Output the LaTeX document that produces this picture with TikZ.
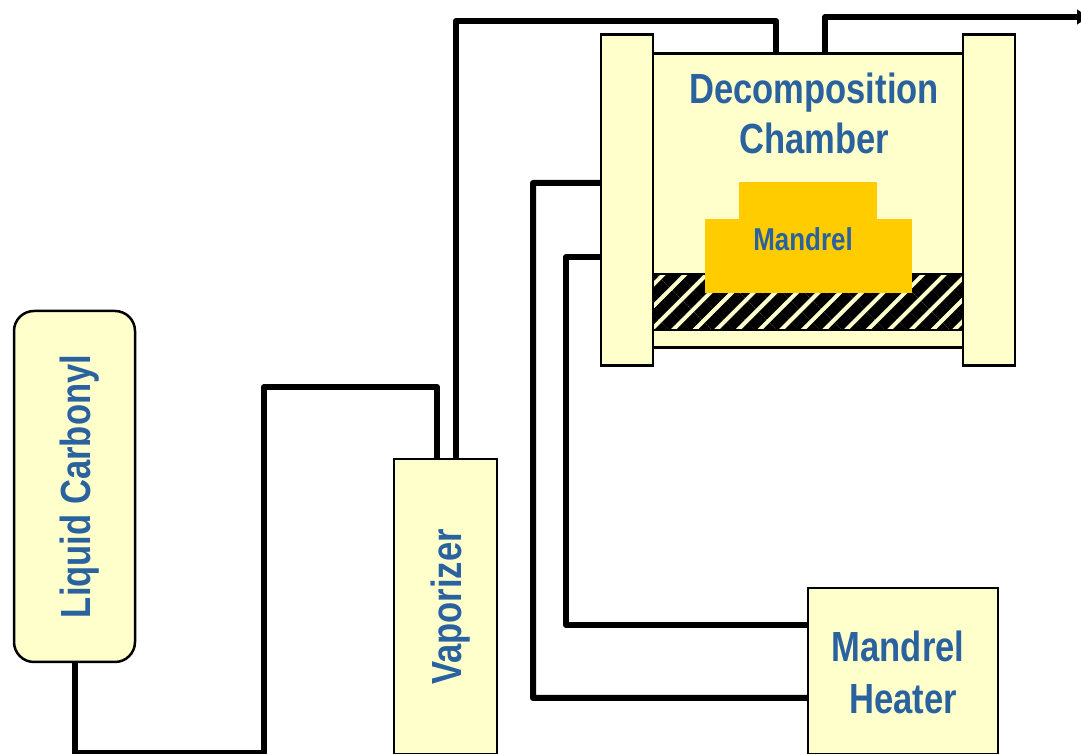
\documentclass[tikz,border=0pt]{standalone}
\usepackage{xcolor}
\usepackage{fontspec}
\setmainfont[FakeStretch=0.82]{Liberation Sans}
\usepackage{tikz}
\usetikzlibrary{arrows.meta, patterns.meta}
\definecolor{labelblue}{RGB}{42, 98, 160}
\definecolor{boxcream}{RGB}{255, 255, 204}
\definecolor{mandrelgold}{RGB}{255, 204, 0}
\tikzset{
  unitbox/.style={draw=black, line width=0.05cm, fill=boxcream, inner sep=0pt, outer sep=0pt},
  pipe/.style={draw=black, line width=0.12cm, line join=round},
  biglabel/.style={labelblue, font=\fontsize{24}{28.35}\selectfont\bfseries, align=center, inner sep=0pt}
}

\begin{document}
\begin{tikzpicture}[scale=1.0]
    \useasboundingbox (0,0) rectangle (21.62,15.08);

    %% liquid source and vaporizer
    \node[unitbox, rounded corners=0.4cm, minimum width=2.42cm, minimum height=7.02cm] (carbonyl) at (1.49,5.35) {};
    \node[biglabel, rotate=90] (carbonyllabel) at (1.6,5.35) {Liquid Carbonyl};
    \node[unitbox, minimum width=2.06cm, minimum height=5.9cm] (vaporizer) at (8.91,2.95) {};
    \node[biglabel, rotate=90] (vaporizerlabel) at (9.02,2.94) {Vaporizer};

    %% decomposition chamber
    \node[unitbox, minimum width=6.2cm, minimum height=5.88cm] (chamber) at (16.16,11.07) {};
    \node[unitbox, minimum width=1.04cm, minimum height=6.62cm] (flangeleft) at (12.54,11.08) {};
    \node[unitbox, minimum width=1.04cm, minimum height=6.62cm] (flangeright) at (19.78,11.08) {};
    \node[biglabel] (chamberlabel) at (16.28,12.81) {Decomposition\\Chamber};

    %% hatched plate
    \node[draw=black, line width=0.05cm, inner sep=0pt, outer sep=0pt, minimum width=6.2cm, minimum height=1.12cm,
      preaction={fill=boxcream},
      pattern={Lines[angle=45, distance=0.306cm, line width=0.22cm]}, pattern color=black] (plate) at (16.16,9.04) {};

    %% mandrel
    \fill[mandrelgold] (14.78,11.44) rectangle (17.54,10.7);
    \fill[mandrelgold] (14.1,10.7) rectangle (18.24,9.22);
    \node[labelblue, font=\fontsize{18}{22}\selectfont\bfseries, inner sep=0pt] (mandrellabel) at (16.06,10.29) {Mandrel};

    %% heater
    \node[unitbox, minimum width=3.8cm, minimum height=3.32cm] (heater) at (18.06,1.66) {};
    \node[biglabel] (heaterlabel) at (18.06,1.63) {Mandrel\kern0.2cm\\[0.04cm]Heater};

    %% pipes
    \coordinate (outlet) at (21.84,14.74);
    \draw[pipe] (carbonyl.south) |- (5.28,0.02) |- (8.74,7.34) -- ([xshift=-0.17cm]vaporizer.north);
    \draw[pipe] ([xshift=0.21cm]vaporizer.north) |- (15.52,14.66) -- ([xshift=-0.64cm]chamber.north);
    \draw[pipe, -{Latex[length=0.3cm, width=0.32cm]}] ([xshift=0.34cm]chamber.north) |- (outlet);
    \draw[pipe] ([yshift=0.34cm]flangeleft.west) -| (10.66,1.12) -- ([yshift=-0.54cm]heater.west);
    \draw[pipe] ([yshift=-1.14cm]flangeleft.west) -| (11.32,2.58) -- ([yshift=0.92cm]heater.west);
\end{tikzpicture}
\end{document}
